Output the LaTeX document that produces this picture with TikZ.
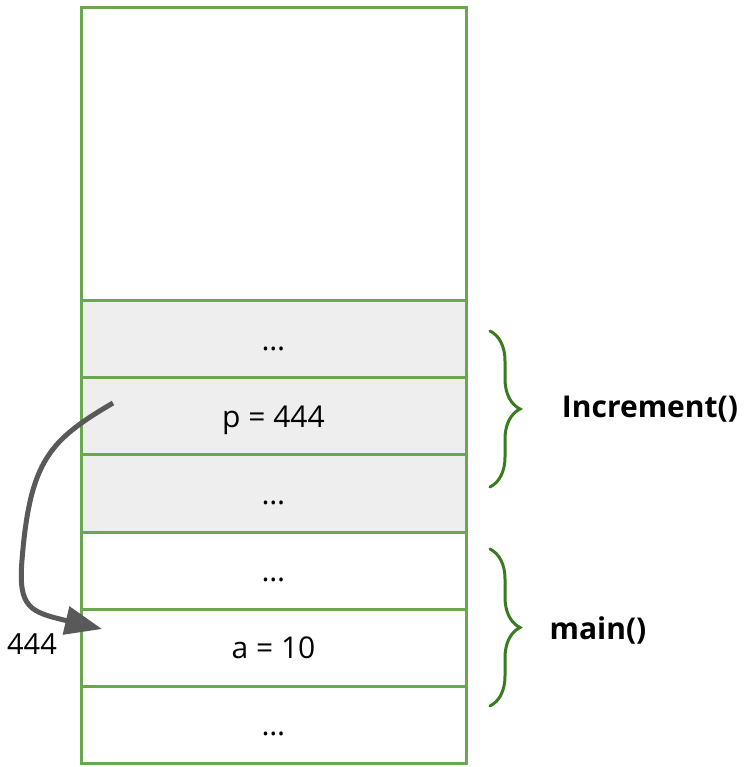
\documentclass[tikz,border=0pt]{standalone}
\usepackage{fontspec}
\setmainfont{Open Sans}
\usetikzlibrary{arrows.meta,decorations.pathreplacing}
\definecolor{cellgreen}{HTML}{6AA84F}
\definecolor{bracegreen}{HTML}{3A7A20}
\definecolor{framegray}{HTML}{EEEEEE}
\definecolor{ptrgray}{HTML}{595959}
\tikzset{
	cell/.style={draw=cellgreen, line width=3pt, minimum width=385pt, minimum height=77.17pt,
		inner sep=0pt, text height=22pt, text depth=0pt, anchor=north,
		font=\fontsize{30}{36}\selectfont},
	framebrace/.style={draw=bracegreen, line width=3pt, line cap=round,
		decorate, decoration={brace, amplitude=30pt}},
	framename/.style={font=\fontsize{30}{36}\selectfont\bfseries},
	ptr/.style={draw=ptrgray, line width=5pt, -{Triangle[length=37pt, width=28pt]}}
}
\begin{document}
\begin{tikzpicture}[x=1pt, y=-1pt]
	\useasboundingbox (0,0) rectangle (749,767);
	\node[cell, minimum height=293pt] (free) at (273.5,6) {};
	\foreach \name/\txt/\shade [count=\i] in {
			incrA/{…}/framegray, pcell/{p = 444}/framegray, incrB/{…}/framegray,
			mainA/{…}/white, acell/{a = 10}/white, mainB/{…}/white}
		\node[cell, fill=\shade] (\name) at (273.5, {299+(\i-1)*77.17}) {\txt};

	\draw[framebrace] (490,331) -- (490,487);
	\draw[framebrace] (490,549) -- (490,706);
	\node[framename] (incr) at (650,409) {Increment()};
	\node[framename] (main) at (598,630) {main()};

	\coordinate (pfrom) at (113,403);
	\coordinate (ato) at (102,629);
	\draw[ptr] (pfrom) .. controls (50,440) and (30,460) .. (22,560)
		.. controls (18,608) and (30,612) .. (ato);
	\node[font=\fontsize{29}{35}\selectfont] (addr) at (32,644) {444};
\end{tikzpicture}
\end{document}
